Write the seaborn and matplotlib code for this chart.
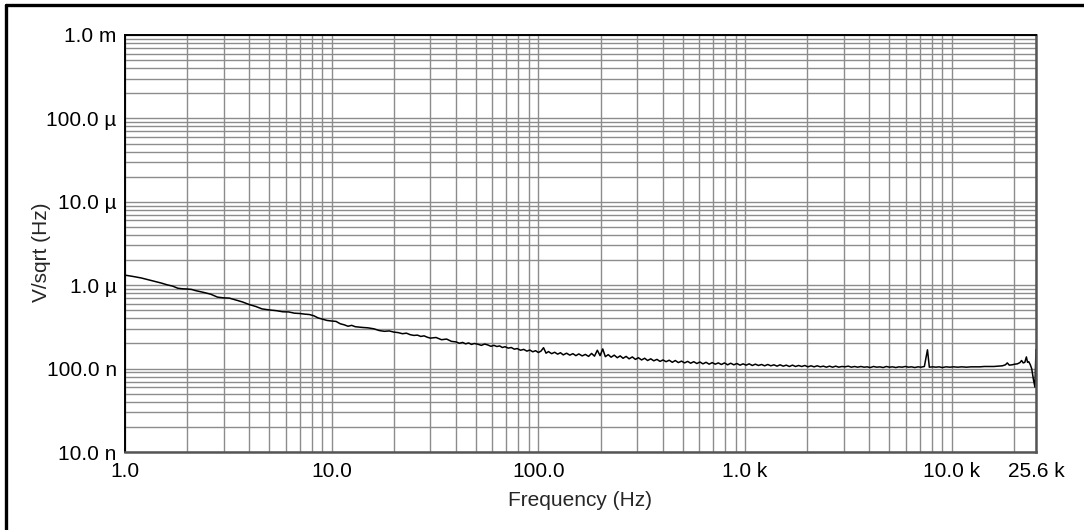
import matplotlib
matplotlib.use("Agg")
import matplotlib.pyplot as plt
from matplotlib.ticker import FixedLocator, FixedFormatter, LogLocator, NullFormatter
from matplotlib.lines import Line2D
import seaborn as sns
import pandas as pd
import numpy as np

# Noise spectrum (frequency in Hz, density in nV/sqrt(Hz))
freq_hz = [
    1.0, 1.1, 1.2, 1.3, 1.4, 1.5, 1.6, 1.7, 1.8, 1.9, 2.0, 2.1, 2.2, 2.4, 2.6, 2.8,
    3.0, 3.2, 3.4, 3.7, 4.0, 4.3, 4.6, 5.0, 5.4, 5.8, 6.2, 6.6, 7.0, 7.4, 7.8, 8.2,
    8.6, 9.0, 9.5, 10, 10.5, 11, 11.5, 12, 12.5, 13, 14, 15, 16, 17, 18, 19, 20,
    21, 22, 23, 24, 25, 26, 27, 28, 29, 30, 32, 34, 36, 38,
    40, 41.5, 43, 44.5, 46, 47.5, 49, 51, 53, 55, 57, 59, 61, 63, 65, 67, 69,
    71.5, 74, 76.5, 79, 82, 85, 88, 91, 94, 97, 100, 103, 106, 109, 112, 116,
    120, 124, 128, 132, 137, 142, 147, 152, 157, 163, 169, 175, 181, 187, 193,
    199, 205, 211, 218, 225, 233, 241, 249, 257, 266, 275, 285, 295, 305, 316,
    327, 338, 350, 362, 375, 388, 401, 415, 430, 445, 460, 476, 493, 510, 528,
    546, 565, 585, 605, 626, 648, 671, 694, 718, 743, 769, 796, 824, 853, 883,
    914, 946, 979, 1013, 1048, 1085, 1123, 1162, 1203, 1245, 1289, 1334, 1381,
    1429, 1479, 1531, 1585, 1640, 1697, 1757, 1818, 1882, 1948, 2016, 2087,
    2160, 2235, 2314, 2395, 2478, 2565, 2655, 2748, 2844, 2944,
    3050, 3160, 3270, 3390, 3510, 3640, 3770, 3900, 4040, 4190, 4340, 4500,
    4660, 4830, 5000, 5180, 5370, 5560, 5760, 5970, 6180, 6400, 6630, 6870,
    7120, 7380, 7640, 7800, 8100, 8400, 8700, 9000, 9400, 9800, 10200, 10700,
    11200, 11800, 12400, 13000, 13700, 14400, 15200, 16000, 16800, 17600,
    18200, 18600, 19000, 19600, 20200, 20800, 21400, 21800, 22200, 22600,
    23000, 23300, 23600, 24000, 24400, 24900, 25300, 25600,
]
noise_nv = [
    1320, 1270, 1220, 1160, 1110, 1060, 1010, 975, 920, 905, 900, 890, 860, 820, 780, 720,
    705, 700, 670, 630, 585, 555, 520, 505, 495, 480, 478, 462, 458, 450, 445, 430,
    405, 392, 378, 372, 368, 345, 335, 322, 330, 318, 312, 308, 300, 286, 280, 283, 274,
    270, 262, 266, 255, 250, 252, 243, 247, 238, 232, 236, 222, 226, 212,
    209, 201, 206, 198, 203, 195, 200, 196, 190, 197, 192, 185, 190, 184, 187, 179, 183,
    176, 179, 171, 174, 166, 170, 162, 167, 159, 164, 156, 162, 178, 153, 160, 151,
    157, 149, 155, 146, 153, 145, 151, 143, 150, 142, 148, 140, 152, 141, 166,
    143, 172, 139, 147, 137, 145, 135, 142, 133, 140, 131, 138, 129, 135, 127,
    133, 125, 131, 124, 129, 122, 127, 121, 126, 119, 125, 118, 123, 117, 122,
    116, 121, 115, 120, 114, 119, 113, 118, 113, 117, 112, 117, 111, 116, 111,
    115, 110, 114, 110, 114, 109, 113, 109, 112, 108, 112, 108, 111,
    107, 111, 107, 110, 106, 110, 106, 109, 106, 109, 105, 108,
    105, 108, 105, 107, 104, 107, 104, 107, 104, 106,
    105, 107, 104, 106, 104, 106, 104, 105, 103, 106, 104, 105,
    103, 106, 104, 105, 103, 105, 104, 106, 104, 105, 103, 105,
    104, 106, 168, 104, 105, 104, 105, 103, 105, 104, 105, 104,
    105, 104, 105, 105, 105, 106, 106, 106, 107, 108,
    111, 117, 110, 111, 113, 114, 118, 125, 117, 119,
    138, 119, 121, 112, 100, 73, 60, 170,
]

x_ticks = [1, 10, 100, 1000, 10000, 25600]
x_tick_labels = ["1.0", "10.0", "100.0", "1.0 k", "10.0 k", "25.6 k"]
y_ticks = [1e-8, 1e-7, 1e-6, 1e-5, 1e-4, 1e-3]
y_tick_labels = ["10.0 n", "100.0 n", "1.0 \u00b5", "10.0 \u00b5", "100.0 \u00b5", "1.0 m"]

df = pd.DataFrame({"Frequency": freq_hz, "Noise": np.array(noise_nv) * 1e-9})

sns.set_theme(style="white")
plt.rcParams["font.family"] = ["Liberation Sans", "DejaVu Sans"]

fig = plt.figure(figsize=(10.84, 5.30), dpi=100)
ax = fig.add_axes([125 / 1084, 1 - 452 / 530, 911 / 1084, 417 / 530])
ax.set_xscale("log")
ax.set_yscale("log")

sns.lineplot(data=df, x="Frequency", y="Noise", ax=ax, color="black",
             linewidth=1.1, estimator=None, sort=False)

ax.set_xlim(1, 25600)
ax.set_ylim(1e-8, 1e-3)

# major ticks as labelled in the reference, minor at 2..9 of each decade
ax.xaxis.set_major_locator(FixedLocator(x_ticks))
ax.xaxis.set_major_formatter(FixedFormatter(x_tick_labels))
ax.yaxis.set_major_locator(FixedLocator(y_ticks))
ax.yaxis.set_major_formatter(FixedFormatter(y_tick_labels))
ax.xaxis.set_minor_locator(LogLocator(base=10, subs=np.arange(2, 10), numticks=20))
ax.yaxis.set_minor_locator(LogLocator(base=10, subs=np.arange(2, 10), numticks=20))
ax.xaxis.set_minor_formatter(NullFormatter())
ax.yaxis.set_minor_formatter(NullFormatter())

ax.grid(True, which="both", color="#8c8c8c", linewidth=1.0)
ax.set_axisbelow(True)
ax.tick_params(which="both", length=0, labelsize=15, colors="black")
ax.tick_params(axis="x", pad=7)
ax.tick_params(axis="y", pad=6)

ax.set_xlabel("Frequency (Hz)", fontsize=15)
ax.set_ylabel("V/sqrt (Hz)", fontsize=15)
ax.xaxis.set_label_coords(0.5, -0.093)
ax.yaxis.set_label_coords(-0.081, 0.478)

for side in ["top", "left"]:
    ax.spines[side].set_color("black")
    ax.spines[side].set_linewidth(1.4)
for side in ["right", "bottom"]:
    ax.spines[side].set_color("#555555")
    ax.spines[side].set_linewidth(1.8)

# black frame on the top and left edge of the picture
fig.add_artist(Line2D([6 / 1084, 1], [1 - 5 / 530, 1 - 5 / 530], color="black", linewidth=2.4))
fig.add_artist(Line2D([6 / 1084, 6 / 1084], [0, 1 - 5 / 530], color="black", linewidth=2.4))

fig.savefig("out.png", dpi=100)
